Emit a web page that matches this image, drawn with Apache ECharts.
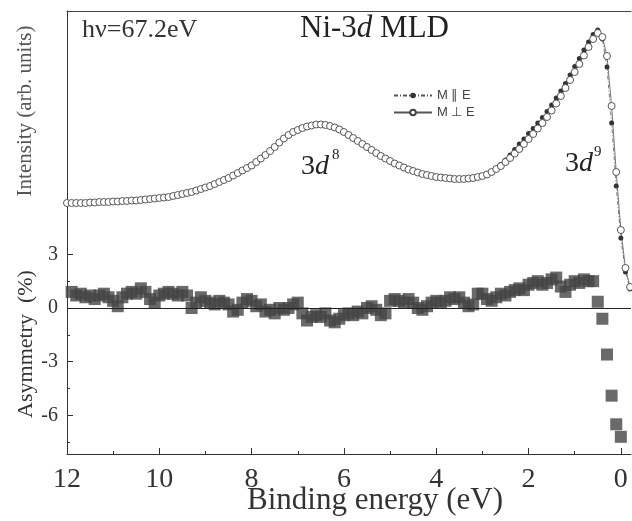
<!DOCTYPE html>
<html>
<head>
<meta charset="utf-8">
<script src="https://cdn.jsdelivr.net/npm/echarts@6/dist/echarts.min.js"></script>
<style>html,body{margin:0;padding:0;background:#fff;}</style>
</head>
<body>
<div id="main" style="width:632px;height:521px;"></div>
<script type="text/javascript">

// binding energy (eV)
var energy = [
  12.0,
  11.9, 11.8, 11.7, 11.6, 11.5, 11.4, 11.3, 11.2, 11.1, 11.0,
  10.9, 10.8, 10.7, 10.6, 10.5, 10.4, 10.3, 10.2, 10.1, 10.0,
  9.9, 9.8, 9.7, 9.6, 9.5, 9.4, 9.3, 9.2, 9.1, 9.0,
  8.9, 8.8, 8.7, 8.6, 8.5, 8.4, 8.3, 8.2, 8.1, 8.0,
  7.9, 7.8, 7.7, 7.6, 7.5, 7.4, 7.3, 7.2, 7.1, 7.0,
  6.9, 6.8, 6.7, 6.6, 6.5, 6.4, 6.3, 6.2, 6.1, 6.0,
  5.9, 5.8, 5.7, 5.6, 5.5, 5.4, 5.3, 5.2, 5.1, 5.0,
  4.9, 4.8, 4.7, 4.6, 4.5, 4.4, 4.3, 4.2, 4.1, 4.0,
  3.9, 3.8, 3.7, 3.6, 3.5, 3.4, 3.3, 3.2, 3.1, 3.0,
  2.9, 2.8, 2.7, 2.6, 2.5, 2.4, 2.3, 2.2, 2.1, 2.0,
  1.9, 1.8, 1.7, 1.6, 1.5, 1.4, 1.3, 1.2, 1.1, 1.0,
  0.9, 0.8, 0.7, 0.6, 0.5, 0.4, 0.3, 0.2, 0.1, 0.0,
  -0.1, -0.2
];

// intensity, M perpendicular E (open circles)
var intPerp = [
  97,
  97, 97, 97, 97, 97.5, 97.5, 98, 98, 98, 98.5,
  98.5, 99, 99, 99.5, 99.5, 100, 100.5, 101, 101.5, 102,
  102.5, 103, 104, 105, 106, 107, 108, 109.5, 111, 112.5,
  114, 116, 118, 120, 122, 124.5, 127, 129.5, 132, 134.5,
  138, 141.5, 145, 149, 153, 157.5, 161.5, 165, 168, 170,
  172, 173.5, 174.5, 175.5, 175.5, 175, 174, 172.5, 170.5, 168,
  165, 162, 159, 156, 153, 150, 147, 144, 141.5, 139,
  136.5, 134.5, 132.5, 130.5, 129, 127.5, 126, 125, 124, 123,
  122.5, 122, 121.5, 121, 121, 121, 121.5, 122, 123, 124,
  125.5, 128, 131, 134, 138, 142, 146.5, 151, 156, 161,
  166, 171.5, 177, 183, 189.5, 196.5, 204, 212, 220, 228,
  236, 244.5, 253, 261, 267, 263, 244, 194, 128, 70,
  32, 13
];

// intensity, M parallel E (filled dots)
var intPara = [
  97,
  97, 97, 97, 97, 97.5, 97.5, 98, 98, 98, 98.5,
  98.5, 99, 99, 99.5, 99.5, 100, 100.5, 101, 101.5, 102,
  102.5, 103, 104, 105, 106, 107, 108, 109.5, 111, 112.5,
  114, 116, 118, 120, 122, 124.5, 127, 129.5, 132, 134.5,
  138, 141.5, 145, 149, 153, 157.5, 161.5, 165, 168, 170,
  172, 173.5, 174.5, 175.5, 175.5, 175, 174, 172.5, 170.5, 168,
  165, 162, 159, 156, 153, 150, 147, 144, 141.5, 139,
  136.5, 134.5, 132.5, 130.5, 129, 127.5, 126, 125, 124, 123,
  122.5, 122, 121.5, 121, 121, 121, 121.5, 122, 123, 124,
  125.5, 128, 131.5, 135.5, 140, 145, 150.5, 156, 161, 166.5,
  171.5, 177, 182.5, 188.5, 195, 202, 209, 216.5, 225, 233.5,
  241.5, 250, 258, 265.5, 270, 261, 233, 177, 114, 62,
  28, 11
];

// asymmetry (%)
var asym = [
  null,
  0.9, 0.7, 0.8, 0.6, 0.7, 0.5, 0.7, 0.8, 0.6, 0.4,
  0.1, 0.6, 0.8, 0.9, 0.8, 1.1, 0.9, 0.5, 0.3, 0.7,
  0.8, 0.9, 0.8, 0.7, 0.9, 0.7, 0.0, 0.3, 0.6, 0.4,
  0.3, 0.2, 0.4, 0.3, 0.2, -0.2, -0.1, 0.3, 0.5, 0.4,
  0.1, 0.2, -0.2, -0.1, -0.3, 0.0, -0.1, 0.0, 0.2, 0.3,
  -0.3, -0.7, -0.5, -0.4, -0.5, -0.3, -0.7, -0.8, -0.6, -0.4,
  -0.3, -0.4, -0.2, -0.3, 0.0, 0.1, -0.1, -0.4, -0.3, 0.4,
  0.5, 0.4, 0.3, 0.5, 0.3, 0.0, -0.1, 0.1, 0.3, 0.4,
  0.3, 0.4, 0.6, 0.5, 0.6, 0.3, 0.1, 0.2, 0.8, 0.8,
  0.5, 0.4, 0.6, 0.8, 0.7, 0.9, 1.0, 1.1, 1.0, 1.3,
  1.4, 1.5, 1.3, 1.4, 1.6, 1.7, 1.2, 0.9, 1.3, 1.5,
  1.4, 1.6, 1.5, 1.5, 0.35, -0.6, -2.6, -4.9, -6.5, -7.2,
  null, null
];

var xMajor = [12, 10, 8, 6, 4, 2, 0];
var xMinor = [11, 9, 7, 5, 3, 1];
var asymTicks = [3, 0, -3, -6];
var asymMinor = [1.5, -1.5, -4.5, -7.5];

function pairs(ys) {
  var out = [];
  for (var i = 0; i < energy.length; i++) {
    if (ys[i] !== null) out.push([energy[i], ys[i]]);
  }
  return out;
}

var serif = 'Liberation Serif';
var myChart = echarts.init(document.getElementById('main'));

var xBase = {
  type: 'value', inverse: true, min: -0.22, max: 12,
  splitLine: { show: false }
};

option = {
  animation: false,
  backgroundColor: '#fff',
  grid: { left: 67, right: 1, top: 11, bottom: 67 },
  legend: {
    left: 388, top: 84, orient: 'vertical',
    itemWidth: 38, itemHeight: 7, itemGap: 4,
    textStyle: { fontFamily: 'Liberation Sans', fontSize: 13, color: '#444' },
    data: ['M \u2225 E', 'M \u22A5 E']
  },
  xAxis: [
    Object.assign({}, xBase, {
      position: 'bottom',
      axisLine: { show: true, onZero: false, lineStyle: { color: '#333', width: 1 } },
      axisTick: { show: true, inside: true, length: 6, customValues: xMajor, lineStyle: { color: '#333' } },
      axisLabel: { customValues: xMajor, fontFamily: serif, fontSize: 28, color: '#333', margin: 12 }
    }),
    Object.assign({}, xBase, {
      position: 'bottom',
      axisLine: { show: false, onZero: false },
      axisTick: { show: true, inside: true, length: 3, customValues: xMinor, lineStyle: { color: '#333' } },
      axisLabel: { show: false }
    }),
    Object.assign({}, xBase, {
      position: 'top',
      axisLine: { show: true, onZero: false, lineStyle: { color: '#444', width: 1 } },
      axisTick: { show: false },
      axisLabel: { show: false }
    })
  ],
  yAxis: [
    {
      type: 'value', min: -8.16, max: 16.6, position: 'left',
      splitLine: { show: false },
      axisLine: { show: true, onZero: false, lineStyle: { color: '#333', width: 1 } },
      axisTick: { show: true, inside: true, length: 6, customValues: asymTicks, lineStyle: { color: '#333' } },
      axisLabel: { customValues: asymTicks, fontFamily: serif, fontSize: 20, color: '#333', margin: 9 }
    },
    {
      type: 'value', min: -154, max: 289, show: false
    },
    {
      type: 'value', min: -8.16, max: 16.6, position: 'left',
      splitLine: { show: false },
      axisLine: { show: false, onZero: false },
      axisTick: { show: true, inside: true, length: 3, customValues: asymMinor, lineStyle: { color: '#333' } },
      axisLabel: { show: false }
    }
  ],
  series: [
    {
      name: 'M \u2225 E', type: 'line', xAxisIndex: 0, yAxisIndex: 1,
      data: pairs(intPara),
      symbol: 'circle', symbolSize: 5,
      itemStyle: { color: '#333' },
      lineStyle: { color: '#555', width: 0.8, type: [4, 2, 1, 2] }
    },
    {
      name: 'M \u22A5 E', type: 'line', xAxisIndex: 0, yAxisIndex: 1,
      data: pairs(intPerp),
      symbol: 'circle', symbolSize: 7,
      itemStyle: { color: '#fff', borderColor: '#444', borderWidth: 0.9 },
      lineStyle: { color: '#555', width: 0.8 }
    },
    {
      name: 'asym', type: 'scatter', xAxisIndex: 0, yAxisIndex: 0,
      data: pairs(asym),
      symbol: 'rect', symbolSize: 12,
      itemStyle: { color: '#454545' },
      markLine: {
        silent: true, symbol: ['none', 'none'],
        label: { show: false },
        lineStyle: { color: '#222', width: 1, type: 'solid' },
        data: [{ yAxis: 0 }]
      }
    }
  ],
  graphic: [
    { type: 'text', x: 82, y: 17, style: { text: 'h\u03BD=67.2eV', fontFamily: serif, fontSize: 26, fill: '#333' } },
    { type: 'text', x: 300, y: 13, style: {
        text: '{a|Ni-3}{i|d}{a| MLD}',
        rich: {
          a: { fontFamily: serif, fontSize: 31, fill: '#222' },
          i: { fontFamily: serif, fontSize: 31, fontStyle: 'italic', fill: '#222' }
        } } },
    { type: 'text', x: 301, y: 153, style: {
        text: '{a|3}{i|d}',
        rich: {
          a: { fontFamily: serif, fontSize: 28, fill: '#222' },
          i: { fontFamily: serif, fontSize: 28, fontStyle: 'italic', fill: '#222' }
        } } },
    { type: 'text', x: 332, y: 148, style: { text: '8', fontFamily: serif, fontSize: 15, fill: '#222' } },
    { type: 'text', x: 565, y: 150, style: {
        text: '{a|3}{i|d}',
        rich: {
          a: { fontFamily: serif, fontSize: 28, fill: '#222' },
          i: { fontFamily: serif, fontSize: 28, fontStyle: 'italic', fill: '#222' }
        } } },
    { type: 'text', x: 594, y: 145, style: { text: '9', fontFamily: serif, fontSize: 15, fill: '#222' } },
    { type: 'text', x: 25, y: 111, rotation: Math.PI / 2, style: {
        text: 'Intensity (arb. units)', fontFamily: serif, fontSize: 21, fill: '#555',
        align: 'center', verticalAlign: 'middle' } },
    { type: 'text', x: 26, y: 344, rotation: Math.PI / 2, style: {
        text: 'Asymmetry  (%)', fontFamily: serif, fontSize: 22, fill: '#333',
        align: 'center', verticalAlign: 'middle' } },
    { type: 'text', x: 375, y: 501, style: {
        text: 'Binding energy (eV)', fontFamily: serif, fontSize: 31, fill: '#333',
        align: 'center', verticalAlign: 'middle' } }
  ]
};

myChart.setOption(option);

</script>
</body>
</html>
